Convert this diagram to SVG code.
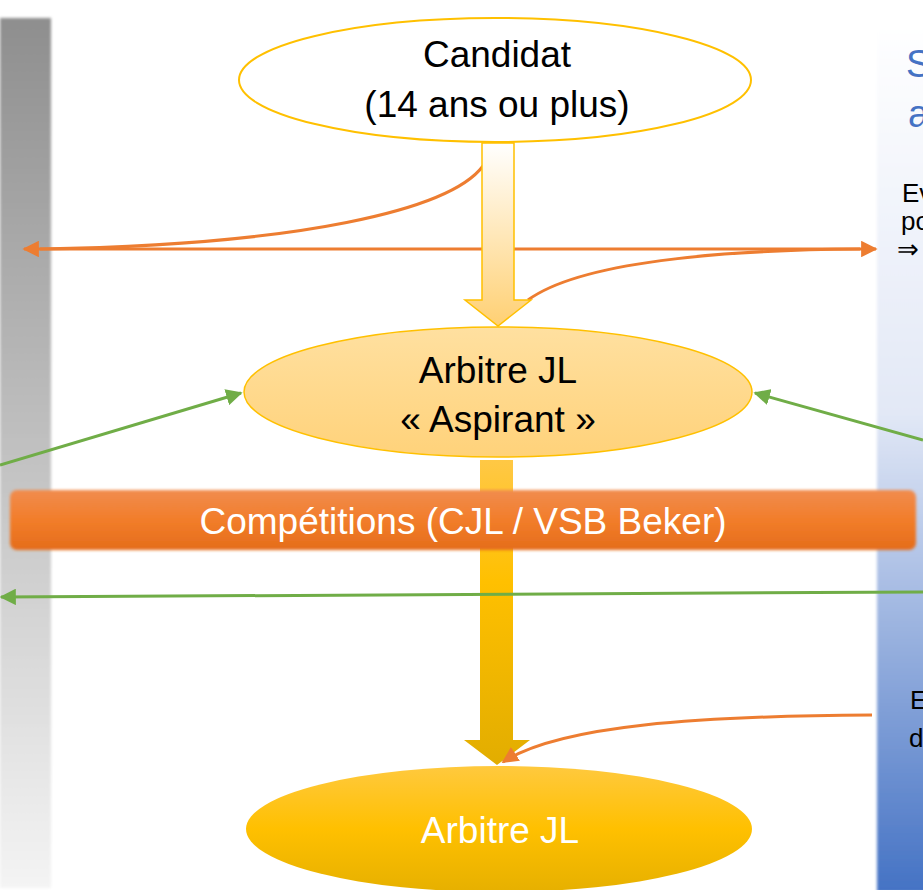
<svg xmlns="http://www.w3.org/2000/svg" width="923" height="890" viewBox="0 0 923 890">
<defs>
<linearGradient id="gLeft" x1="0" y1="0" x2="0" y2="1"><stop offset="0" stop-color="#8e8e8e"/><stop offset="1" stop-color="#f4f4f4"/></linearGradient>
<linearGradient id="gRight" x1="0" y1="0" x2="0" y2="1"><stop offset="0" stop-color="#ffffff"/><stop offset="0.45" stop-color="#e2e8f6"/><stop offset="1" stop-color="#4472c4"/></linearGradient>
<linearGradient id="gArr1" x1="0" y1="0" x2="0" y2="1"><stop offset="0" stop-color="#ffffff"/><stop offset="1" stop-color="#ffd073"/></linearGradient>
<linearGradient id="gAsp" x1="0" y1="0" x2="0" y2="1"><stop offset="0" stop-color="#ffe0a0"/><stop offset="1" stop-color="#ffd27a"/></linearGradient>
<linearGradient id="gArr2" x1="0" y1="0" x2="0" y2="1"><stop offset="0" stop-color="#ffc845"/><stop offset="0.4" stop-color="#ffc000"/><stop offset="1" stop-color="#e2ad00"/></linearGradient>
<linearGradient id="gFin" x1="0" y1="0" x2="0" y2="1"><stop offset="0" stop-color="#ffc93e"/><stop offset="0.5" stop-color="#ffc000"/><stop offset="1" stop-color="#e6b000"/></linearGradient>
<linearGradient id="gBar" x1="0" y1="0" x2="0" y2="1"><stop offset="0" stop-color="#f18c4e"/><stop offset="0.5" stop-color="#f27d2a"/><stop offset="1" stop-color="#e46c1b"/></linearGradient>
<filter id="soft" x="-5%" y="-5%" width="110%" height="110%"><feGaussianBlur stdDeviation="1.5"/></filter>
<marker id="aO" viewBox="0 0 10 10" refX="9" refY="5" markerWidth="5.5" markerHeight="5.5" orient="auto-start-reverse"><path d="M0,0 L10,5 L0,10 z" fill="#ed7d31"/></marker>
<marker id="aG" viewBox="0 0 10 10" refX="9" refY="5" markerWidth="5.5" markerHeight="5.5" orient="auto-start-reverse"><path d="M0,0 L10,5 L0,10 z" fill="#70ad47"/></marker>
<style>
.t{font-family:"Liberation Sans",Arial,sans-serif;text-anchor:middle}
.or{fill:none;stroke:#ed7d31;stroke-width:3}
.gr{fill:none;stroke:#70ad47;stroke-width:3}
.sm{font-family:"Liberation Sans",Arial,sans-serif;font-size:26px;fill:#000}
.bl{font-family:"Liberation Sans",Arial,sans-serif;font-size:38px;fill:#4472c4}
</style>
</defs>
<rect width="923" height="890" fill="#ffffff"/>
<g id="left-panel"><rect x="0" y="18" width="51" height="870" fill="url(#gLeft)" filter="url(#soft)"/></g>
<g id="right-panel">
<rect x="877" y="20" width="50" height="872" fill="url(#gRight)" filter="url(#soft)"/>
<text x="906" y="77" class="bl">S</text>
<text x="908" y="127" class="bl">a</text>
<text x="902" y="202" class="sm">Ev</text>
<text x="901" y="230" class="sm">po</text>
<text x="897" y="258" class="sm">⇒</text>
<text x="910" y="709" class="sm">E</text>
<text x="909" y="747" class="sm">d</text>
</g>
<g id="connectors">
<line x1="24" y1="249" x2="876" y2="249" class="or" marker-start="url(#aO)" marker-end="url(#aO)"/>
<path d="M483,166 C450,210 300,245 40,249" class="or"/>
<path d="M528,300 C580,262 720,250 860,249" class="or"/>
</g>
<g id="arrow1"><path d="M482,143 L514,143 L514,300 L531,300 L498,326 L465,300 L482,300 Z" fill="url(#gArr1)" stroke="#ffc000" stroke-width="1.5"/></g>
<g id="candidat">
<ellipse cx="495" cy="80" rx="256" ry="62" fill="#ffffff" stroke="#ffc000" stroke-width="2"/>
<text x="497" y="67" class="t" font-size="37" fill="#000">Candidat</text>
<text x="497" y="117" class="t" font-size="37" fill="#000">(14 ans ou plus)</text>
</g>
<g id="arrow2"><path d="M480,460 L513,460 L513,740 L530,740 L497,765 L464,740 L480,740 Z" fill="url(#gArr2)"/></g>
<g id="aspirant">
<ellipse cx="498" cy="392" rx="254" ry="65" fill="url(#gAsp)" stroke="#ffc000" stroke-width="1.5"/>
<text x="498" y="383" class="t" font-size="37" fill="#000">Arbitre JL</text>
<text x="498" y="432" class="t" font-size="37" fill="#000">« Aspirant »</text>
</g>
<g id="competitions">
<rect x="10" y="490" width="906" height="60" rx="7" fill="url(#gBar)" filter="url(#soft)"/>
<text x="463" y="534" class="t" font-size="37" fill="#ffffff">Compétitions (CJL / VSB Beker)</text>
</g>
<g id="arbitre">
<ellipse cx="499" cy="829" rx="253" ry="63" fill="url(#gFin)"/>
<text x="500" y="843" class="t" font-size="37" fill="#ffffff">Arbitre JL</text>
</g>
<g id="connectors2">
<line x1="0" y1="465" x2="241" y2="393" class="gr" marker-end="url(#aG)"/>
<line x1="923" y1="440" x2="755" y2="393" class="gr" marker-end="url(#aG)"/>
<line x1="923" y1="592" x2="1" y2="597" class="gr" marker-end="url(#aG)"/>
<path d="M872,715 C700,716 560,725 503,762" class="or" marker-end="url(#aO)"/>
</g>
</svg>
